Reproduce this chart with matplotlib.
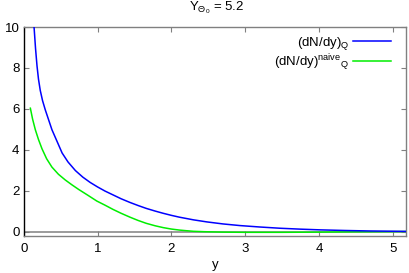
import matplotlib
matplotlib.use("Agg")
import matplotlib.pyplot as plt
from matplotlib.lines import Line2D

plt.rcParams['font.family'] = ['Liberation Sans', 'DejaVu Sans']
plt.rcParams['mathtext.fontset'] = 'custom'
plt.rcParams['mathtext.rm'] = 'Liberation Sans'
plt.rcParams['mathtext.it'] = 'Liberation Sans:italic'
plt.rcParams['mathtext.bf'] = 'Liberation Sans:bold'

# Data
y_q = [0.14, 0.16, 0.18, 0.20, 0.224, 0.255, 0.292, 0.382, 0.52, 0.60, 0.70,
       0.80, 0.90, 1.00, 1.10, 1.21, 1.32, 1.44, 1.55, 1.66, 1.78, 1.89, 2.00,
       2.11, 2.30, 2.48, 2.70, 2.93, 3.20, 3.47, 3.75, 4.02, 4.35, 4.70, 5.18]
dndy_q = [10.0, 8.95, 8.1, 7.45, 6.9, 6.4, 5.95, 4.98, 3.84, 3.40, 2.98,
          2.66, 2.40, 2.18, 1.98, 1.79, 1.60, 1.42, 1.27, 1.13, 1.00, 0.89, 0.79,
          0.70, 0.57, 0.47, 0.37, 0.29, 0.22, 0.16, 0.115, 0.08, 0.05, 0.025, 0.005]

y_naive = [0.09, 0.12, 0.157, 0.20, 0.247, 0.31, 0.382, 0.47, 0.563, 0.65,
           0.743, 0.87, 0.99, 1.10, 1.21, 1.32, 1.44, 1.55, 1.66, 1.78, 1.89,
           2.00, 2.11, 2.20, 2.30, 2.45, 2.70, 3.00, 3.50, 4.00, 4.50, 5.18]
dndy_naive = [6.03, 5.5, 4.98, 4.5, 4.05, 3.56, 3.15, 2.80, 2.52, 2.29,
              2.06, 1.77, 1.49, 1.29, 1.08, 0.89, 0.70, 0.54, 0.40, 0.28, 0.19,
              0.12, 0.07, 0.04, 0.01, -0.01, -0.03, -0.04, -0.04, -0.03, -0.015, 0.0]

xticks = [0, 1, 2, 3, 4, 5]
yticks = [0, 2, 4, 6, 8, 10]
title = r'$\mathrm{Y}_{\Theta_0}$ = 5.2'
labels = [r'(dN/dy)$_{\mathrm{Q}}$', r'(dN/dy)$^{\mathrm{naive}}{}_{\mathrm{Q}}$']

fs = 9.5
fig = plt.figure(figsize=(4.09, 2.73), dpi=100)
ax = fig.add_axes([0.058, 0.137, 0.935, 0.764])

gray = '#808080'
blue = '#0000ff'
green = '#00ee00'
ax.axhline(0, color=gray, lw=1.1, zorder=1)
ax.plot(y_q, dndy_q, color=blue, lw=1.1, zorder=3)
ax.plot(y_naive, dndy_naive, color=green, lw=1.1, zorder=2)

ax.set_xlim(0, 5.18)
ax.set_ylim(-0.2, 10)
ax.set_xticks(xticks)
ax.set_yticks(yticks)
ax.tick_params(direction='in', length=3.5, width=0.8, color=gray,
               top=True, right=True, labelsize=fs, pad=3)
ax.tick_params(axis='x', pad=5)
for side in ['top', 'right', 'bottom']:
    ax.spines[side].set_color(gray)
    ax.spines[side].set_linewidth(1.0)
ax.spines['left'].set_color('black')
ax.spines['left'].set_linewidth(1.0)

ax.set_xlabel('y', fontsize=fs, labelpad=3)
fig.text(0.53, 0.972, title, ha='center', va='center', fontsize=fs)

handles = [Line2D([], [], color=blue, lw=1.1),
           Line2D([], [], color=green, lw=1.1)]
ax.legend(handles, labels, loc='upper right', bbox_to_anchor=(0.982, 1.0),
          frameon=False, markerfirst=False, fontsize=fs, handlelength=2.9,
          handletextpad=0.3, labelspacing=0.0, borderaxespad=0.2)

fig.savefig('out.png', dpi=100)
